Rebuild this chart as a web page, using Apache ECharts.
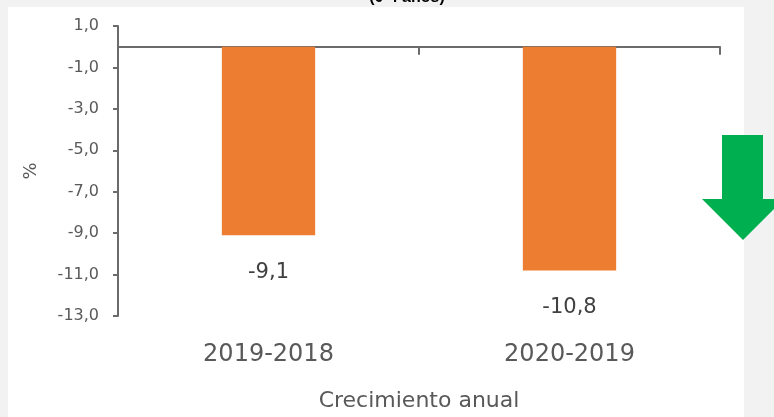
<!DOCTYPE html>
<html>
<head>
<meta charset="utf-8">
<script src="https://cdn.jsdelivr.net/npm/echarts@6/dist/echarts.min.js"></script>
<style>
  html, body { margin: 0; padding: 0; background: #f2f2f2; }
  #main { width: 774px; height: 417px; }
</style>
</head>
<body>
<div id="main"></div>
<script>
var categories = ['2019-2018', '2020-2019'];
var growth = [-9.1, -10.8];
var yMin = -13, yMax = 1, yStep = 2;

function comma(v, d) {
  return v.toFixed(d).replace('.', ',');
}

var chart = echarts.init(document.getElementById('main'));

var option = {
  backgroundColor: '#f2f2f2',
  animation: false,
  grid: { left: 118, right: 54, top: 26, bottom: 101 },
  graphic: [
    {
      type: 'rect', z: -10, silent: true,
      shape: { x: 8, y: 7, width: 736, height: 420 },
      style: { fill: '#ffffff' }
    },
    {
      type: 'text', z: 10, silent: true,
      x: 407, y: -10,
      style: {
        text: '(0-4 años)', align: 'center', verticalAlign: 'top',
        font: 'bold 16px "Liberation Sans", Arial', fill: '#000'
      }
    },
    // flecha verde
    {
      type: 'polygon', z: 10, silent: true,
      shape: { points: [[722, 135], [763, 135], [763, 199], [784, 199], [743, 240], [702, 199], [722, 199]] },
      style: { fill: '#00b050' }
    }
  ],
  xAxis: [
    {
      type: 'category',
      data: categories,
      axisLine: { onZero: true, lineStyle: { color: '#6b6b6b', width: 2 } },
      axisTick: { show: true, length: 8, lineStyle: { color: '#6b6b6b', width: 2 } },
      axisLabel: { show: false }
    },
    {
      type: 'category',
      data: categories,
      position: 'bottom',
      axisLine: { show: false },
      axisTick: { show: false },
      axisLabel: {
        margin: 27,
        color: '#595959',
        fontFamily: 'DejaVu Sans',
        fontSize: 24
      },
      name: 'Crecimiento anual',
      nameLocation: 'middle',
      nameGap: 74,
      nameTextStyle: { color: '#595959', fontFamily: 'DejaVu Sans', fontSize: 22 }
    }
  ],
  yAxis: {
    type: 'value',
    min: yMin,
    max: yMax,
    interval: yStep,
    splitLine: { show: false },
    axisLine: { show: true, lineStyle: { color: '#6b6b6b', width: 2 } },
    axisTick: { show: true, length: 5, lineStyle: { color: '#6b6b6b', width: 2 } },
    axisLabel: {
      margin: 19,
      color: '#595959',
      fontFamily: 'DejaVu Sans',
      fontSize: 16,
      formatter: function (v) { return comma(v, 1); }
    },
    name: '%',
    nameLocation: 'middle',
    nameGap: 78,
    nameTextStyle: { color: '#595959', fontFamily: 'DejaVu Sans', fontSize: 18 }
  },
  series: [
    {
      type: 'bar',
      xAxisIndex: 0,
      data: growth,
      barWidth: '31%',
      itemStyle: { color: '#ed7d31' },
      label: {
        show: true,
        position: 'bottom',
        distance: 27,
        color: '#404040',
        fontFamily: 'DejaVu Sans',
        fontSize: 21,
        formatter: function (p) { return comma(p.value, 1); }
      }
    }
  ]
};

chart.setOption(option);
</script>
</body>
</html>
